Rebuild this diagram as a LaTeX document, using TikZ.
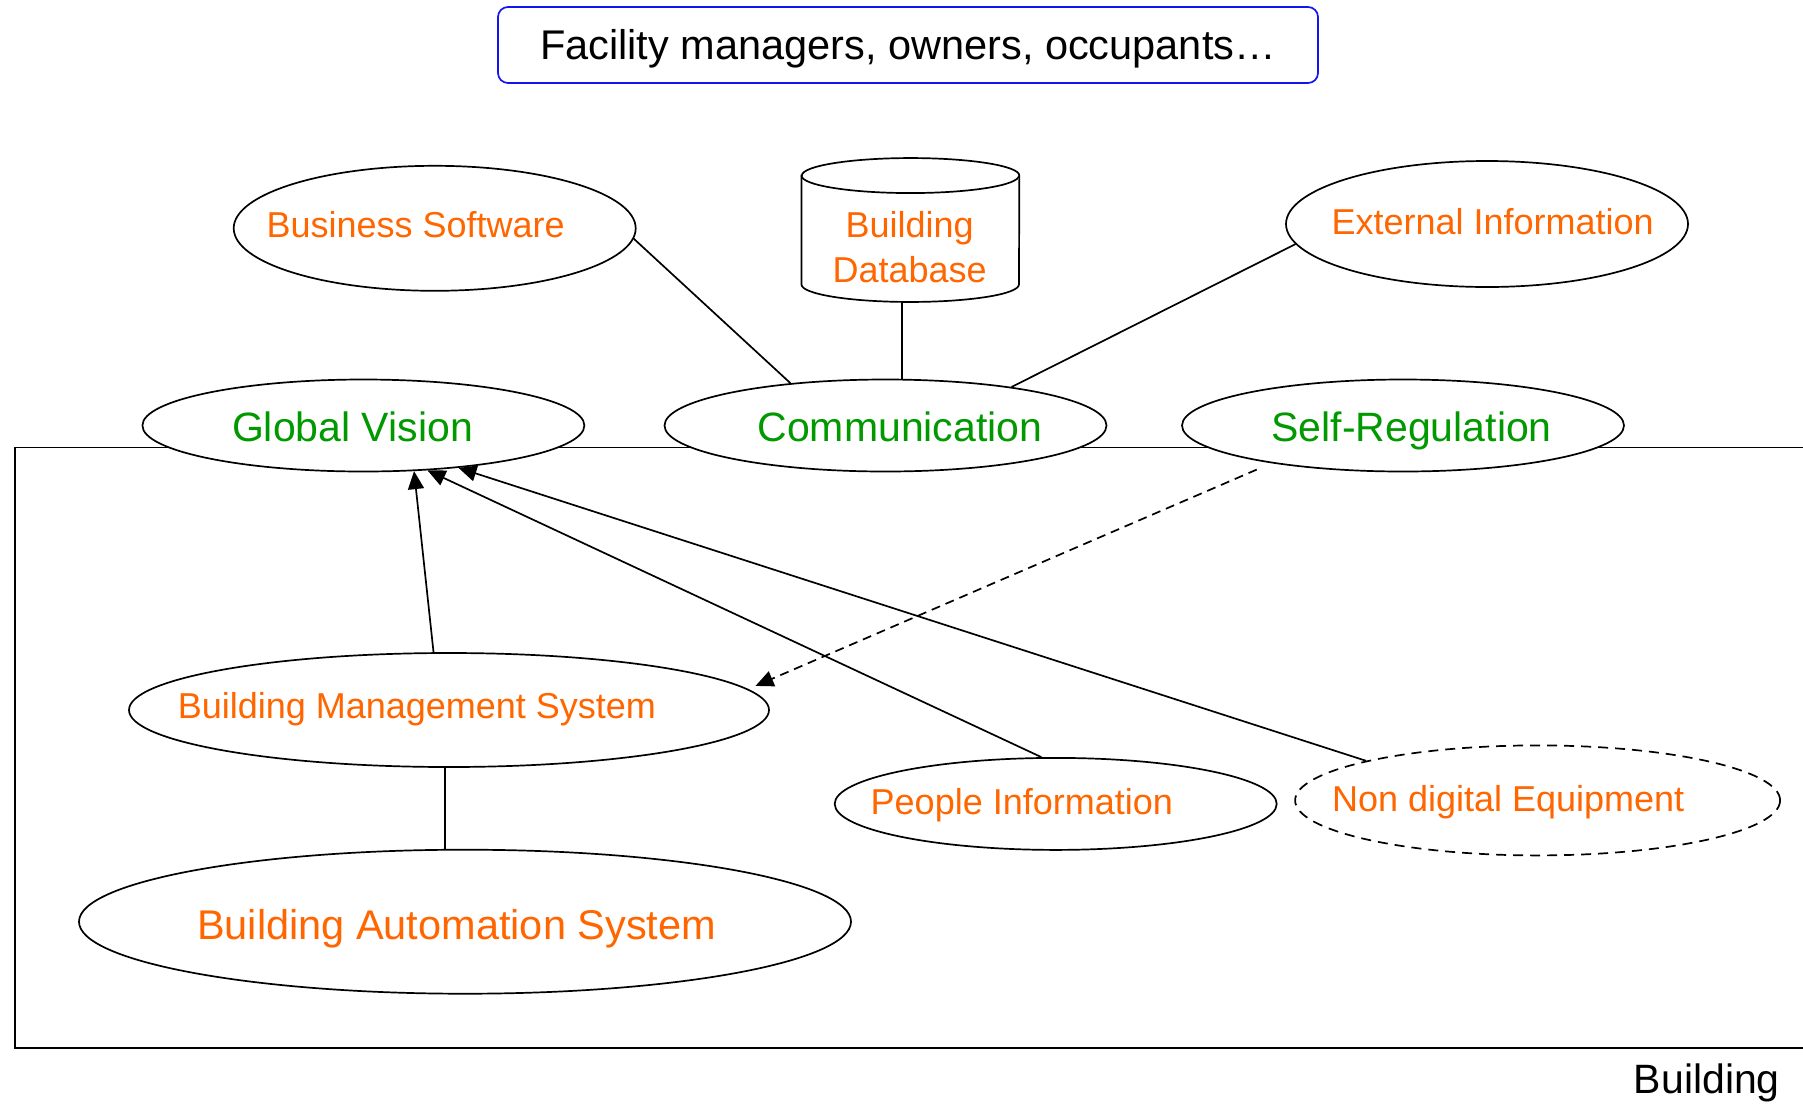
\documentclass[tikz,border=0pt]{standalone}
\usepackage{fontspec}
\setmainfont{Liberation Sans}
\usetikzlibrary{shapes.geometric,arrows.meta}
\definecolor{orng}{RGB}{255,102,0}
\definecolor{grn}{RGB}{0,153,0}
\definecolor{bluebox}{RGB}{20,20,240}
\begin{document}
\begin{tikzpicture}[x=1pt,y=-1pt,
 lw/.style={line width=1.7pt},
 ell/.style={ellipse, draw, lw, fill=white, inner sep=0pt},
 otext/.style={inner sep=0pt, text height=25.8pt, text depth=0pt, text=orng, font=\fontsize{36}{43}\selectfont},
 gtext/.style={inner sep=0pt, text height=29.4pt, text depth=0pt, text=grn, font=\fontsize{41}{49}\selectfont},
 link/.style={lw},
 arr/.style={lw, -{Triangle[length=18pt,width=16pt]}},
 darr/.style={lw, dash pattern=on 9pt off 6pt, -{Triangle[length=18pt,width=16pt]}},
]
\useasboundingbox (0,0) rectangle (1803,1104);

% building frame
\draw[lw] (1810,447.4) -- (15,447.4) -- (15,1047.7) -- (1810,1047.7);
\node[anchor=east, inner sep=0pt, text height=29.4pt, text depth=0pt, font=\fontsize{41}{49}\selectfont] (blabel) at (1780,1079) {Building};

% users box
\node[draw=bluebox, lw, rounded corners=10pt, minimum width=820pt, minimum height=76pt, inner sep=0pt,
      text height=29.4pt, text depth=0pt, font=\fontsize{41.5}{49}\selectfont] (users) at (908,45) {Facility managers, owners, occupants…};

% top row
\node[ell, minimum width=402pt, minimum height=125pt] (bs) at (434.7,228.3) {};
\node[otext] (bst) at (415.7,225) {Business Software};
\node[ell, minimum width=402pt, minimum height=126pt] (ext) at (1487,224) {};
\node[otext] (extt) at (1492.7,222) {External Information};

% database cylinder
\node[minimum width=217.5pt, minimum height=143.5pt, inner sep=0pt] (db) at (910.4,230) {};
\draw[lw, fill=white] ([yshift=-17.5pt]db.north west) -- ([yshift=17.5pt]db.south west)
  arc[start angle=180,end angle=360,x radius=108.75pt,y radius=17.5pt]
  -- ([yshift=-17.5pt]db.north east)
  arc[start angle=0,end angle=180,x radius=108.75pt,y radius=17.5pt] -- cycle;
\draw[lw] ([yshift=-17.5pt]db.north west) arc[start angle=180,end angle=360,x radius=108.75pt,y radius=17.5pt];
\node[inner sep=0pt, text=orng, align=center, font=\fontsize{36}{45}\selectfont] (dbt) at (909.7,247.5) {Building\\Database};

% middle row
\node[ell, minimum width=442pt, minimum height=92pt] (gv) at (363.4,425.5) {};
\node[gtext] (gvt) at (352.5,427) {Global Vision};
\node[ell, minimum width=442pt, minimum height=92pt] (comm) at (885.5,425.5) {};
\node[gtext] (commt) at (900,427) {Communication};
\node[ell, minimum width=442pt, minimum height=92pt] (sr) at (1403,425.5) {};
\node[gtext] (srt) at (1411.6,427) {Self-Regulation};

% lower part
\node[ell, minimum width=640pt, minimum height=114pt] (bms) at (449,710) {};
\node[otext] (bmst) at (416.9,706) {Building Management System};
\node[ell, minimum width=442pt, minimum height=92pt] (pi) at (1055.7,803.9) {};
\node[otext] (pit) at (1021.8,801.5) {People Information};
\node[ell, dash pattern=on 10pt off 7pt, minimum width=485pt, minimum height=110pt] (nde) at (1537.6,800.4) {};
\node[otext] (ndet) at (1508.2,799) {Non digital Equipment};
\node[ell, minimum width=772pt, minimum height=144pt] (bas) at (465,921.7) {};
\node[otext, text height=29.8pt, font=\fontsize{41.5}{50}\selectfont] (bast) at (456.6,925) {Building Automation System};

% connectors
\draw[link] (bs.-3) -- (comm.156);
\draw[link] ([xshift=-8.7pt]db.south) -- ([xshift=-8.7pt]db.south |- comm.north);
\draw[link] (ext.186) -- (comm.17);
\draw[link] ([xshift=-4pt]bms.south) -- ([xshift=-4pt]bms.south |- bas.north);
\draw[arr] (bms.105) -- (gv.-42);
\draw[arr] (pi.107) -- (gv.-35);
\draw[arr] (nde.167) -- (gv.-24);
\draw[darr, shorten <=16pt, shorten >=8pt] (sr.-164) -- (bms.4);
\end{tikzpicture}
\end{document}
